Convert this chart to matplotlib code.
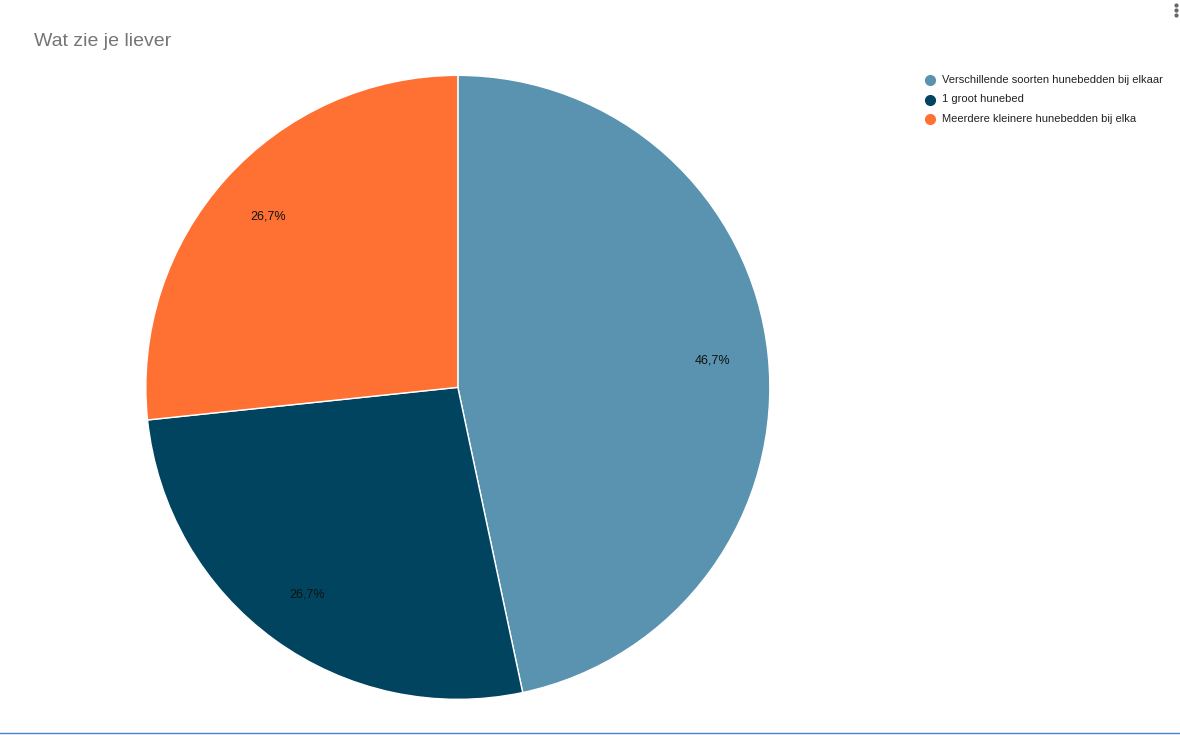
import matplotlib.pyplot as plt
from matplotlib.lines import Line2D

plt.rcParams['font.family'] = ['Liberation Sans', 'DejaVu Sans']

labels = ["Verschillende soorten hunebedden bij elkaar", "1 groot hunebed",
          "Meerdere kleinere hunebedden bij elka"]
values = [7, 4, 4]
colors = ["#5a93b0", "#01445f", "#ff7033"]

fig = plt.figure(figsize=(11.8, 7.35), dpi=100)
ax = fig.add_axes([0.388 - 0.2644, 0.473 - 0.4245, 0.5288, 0.849])
wedges, texts, autotexts = ax.pie(
    values, colors=colors, startangle=90, counterclock=False,
    autopct=lambda p: f"{p:.1f}%".replace(".", ","), pctdistance=0.82,
    wedgeprops=dict(linewidth=1, edgecolor="white"),
    textprops=dict(fontsize=9, color="#111111"))
ax.set_aspect("equal")
ax.set_xlim(-1, 1)
ax.set_ylim(-1, 1)

fig.text(34 / 1180, 1 - 41 / 735, "Wat zie je liever", fontsize=14,
         color="#757575", va="center")

for i, (lab, c) in enumerate(zip(labels, colors)):
    y = 1 - (80 + i * 19.5) / 735
    fig.add_artist(Line2D([930 / 1180], [y], marker="o", markersize=7,
                          color=c, transform=fig.transFigure))
    fig.text(942 / 1180, y, lab, fontsize=8, color="#222222", va="center")

# menu dots and bottom rule
for dy in (5, 10, 15):
    fig.add_artist(Line2D([1176 / 1180], [1 - dy / 735], marker="o", markersize=2,
                          color="#666666", transform=fig.transFigure))
fig.add_artist(Line2D([0, 1], [1 - 733 / 735] * 2, color="#4a7fd6", lw=1,
                      transform=fig.transFigure))

fig.savefig("out.png", dpi=100)
